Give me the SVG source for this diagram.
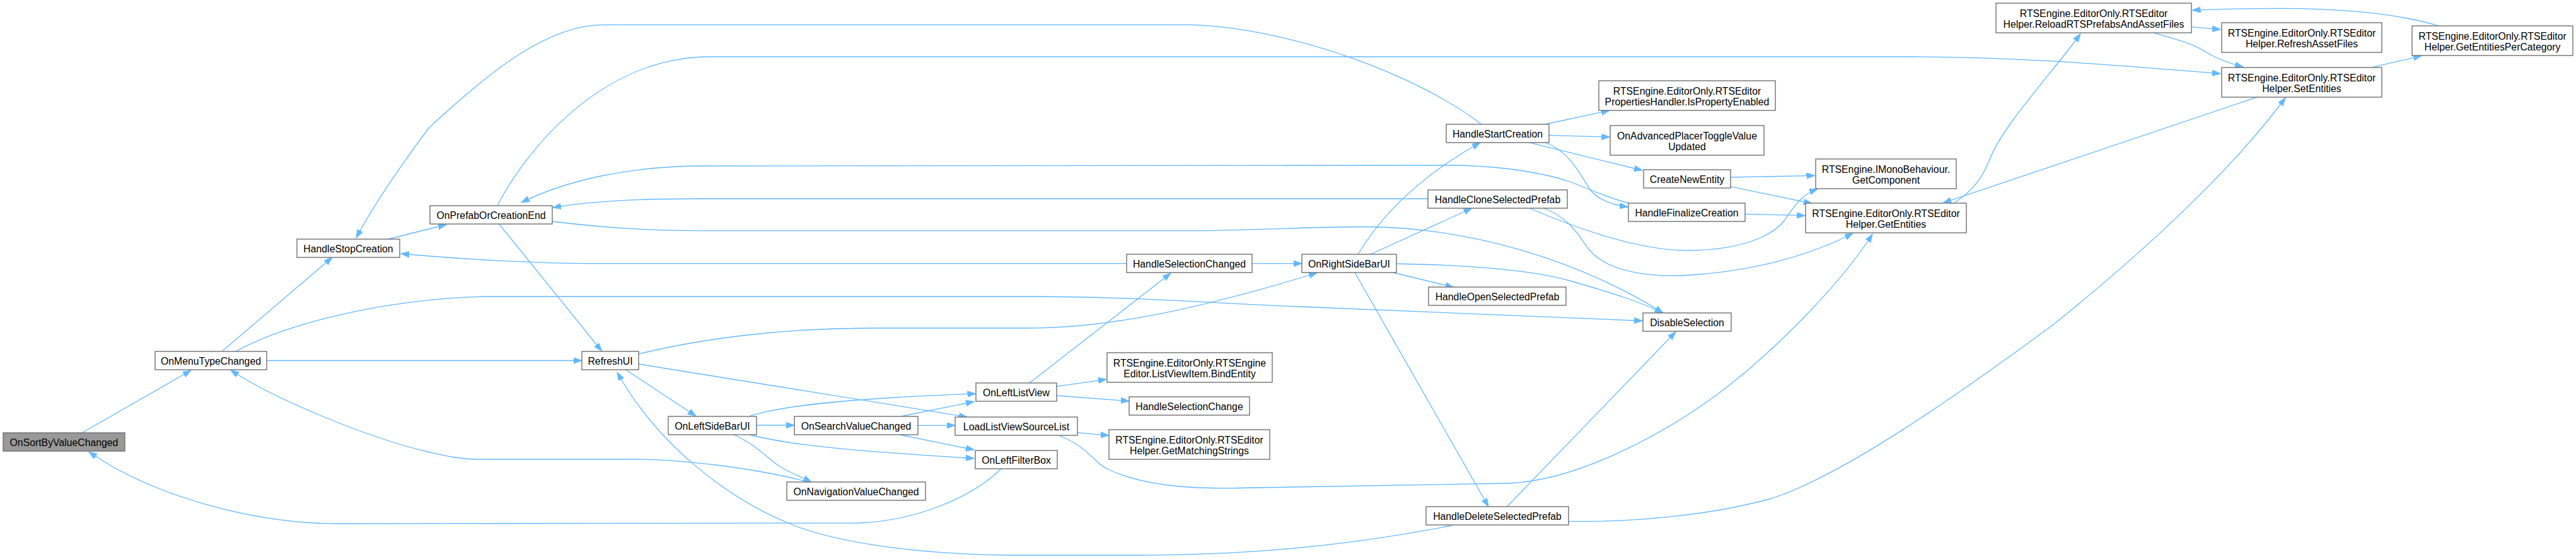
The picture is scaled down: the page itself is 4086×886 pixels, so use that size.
<svg xmlns="http://www.w3.org/2000/svg" width="4086" height="886" viewBox="0 0 4086 886">
<style>
.n rect{fill:#ffffff;stroke:#666666;stroke-width:1.3}
.n.focus rect{fill:#999999;stroke:#666666}
.n text{font-family:"Liberation Sans",Arial,sans-serif;font-size:15.8px;fill:#000000;text-anchor:middle}
.e path{fill:none;stroke:#63b8ff;stroke-width:1.3;marker-end:url(#ah)}
</style>
<defs>
<marker id="ah" markerUnits="userSpaceOnUse" markerWidth="14" markerHeight="10" refX="13" refY="4.7" orient="auto">
<path d="M0,0 L13,4.7 L0,9.4 z" fill="#63b8ff" stroke="#63b8ff" stroke-width="1"/>
</marker>
</defs>
<rect width="4086" height="886" fill="#ffffff"/>
<g id="edges" class="e">
<path d="M130,686 L303,587"/>
<path d="M1588,743 C1540,790 1450,826 1360,829 L536,830 C400,830 240,785 141,716"/>
<path d="M352,557 L527,408"/>
<path d="M423,571.5 L923,571.5"/>
<path d="M374,557 C450,515 600,475 769,470 L1628,470 C1800,470 1950,482 2060,486 L2605,508.5"/>
<path d="M1013,561 C1120,535 1250,520 1380,520 L1628,520 C1760,520 1900,490 2089,432.5"/>
<path d="M992.5,586 L1104,659.5"/>
<path d="M1013,577 L1534,661"/>
<path d="M1189,659.5 C1250,640 1380,630 1547.5,624"/>
<path d="M1200,674 L1260,674"/>
<path d="M1189,689 C1250,705 1350,715 1545,726.5"/>
<path d="M1164,689 C1200,705 1215,725 1238,740 C1255,750 1275,758 1287,764"/>
<path d="M1282,764 C1200,742 1080,728 1010,728 L760,728 C730,728 705,722 680,716.5 C580,693 430,630 366,586.5"/>
<path d="M1431,659.5 L1545,636.5"/>
<path d="M1456,674.3 L1515,674.3"/>
<path d="M1427,689 L1545,713"/>
<path d="M1676,612.3 L1755,601.3"/>
<path d="M1676,627 L1791,635.7"/>
<path d="M1633,607 L1857,433"/>
<path d="M1708,685.7 L1759,690.3"/>
<path d="M1679,690 C1730,710 1735,735 1760,745 C1820,772 1900,776 1990,773 L2393,766 C2500,762 2640,690 2740,613 C2820,550 2920,450 2970,371"/>
<path d="M1787,417.7 L948,417.7 C850,417.7 720,410 636,402"/>
<path d="M1986,417.7 L2065,417.7"/>
<path d="M876,351 C950,360 1030,365.7 1104,365.7 L1887,365.7 C1980,365.7 2080,359 2174,359.5 C2330,362 2500,410 2638,496"/>
<path d="M2214.5,418 C2330,420 2430,428 2490,445 C2560,465 2600,478 2638,496"/>
<path d="M2209.6,432 L2305.6,455.3"/>
<path d="M2149,432 L2361,803"/>
<path d="M2154,403 C2195,335 2260,275 2348,226"/>
<path d="M2174,403 L2334.6,330"/>
<path d="M2265,315 L1104,315 C1000,315 930,320 877,329"/>
<path d="M2583,322 C2540,310 2510,295 2490,288 C2430,268 2350,262 2300,262 L1117,263 C1000,263 900,285 827,321"/>
<path d="M2350,197 C2250,120 2050,45 1891,39.3 L957,39.3 C870,39.3 780,110 680,203 C630,270 590,330 565,377"/>
<path d="M789,326 C830,245 950,90 1126,90 L3032,90 C3200,90 3350,103 3522,116.7"/>
<path d="M791.6,355 L954.5,556.5"/>
<path d="M616,379 L708,356"/>
<path d="M2450.7,197 L2553,175"/>
<path d="M2457,214.3 L2553.4,217.3"/>
<path d="M2424,225.7 L2605,270"/>
<path d="M2451,226 C2490,240 2505,275 2522,300 C2535,318 2560,325 2582,328"/>
<path d="M2426,330 C2520,370 2610,398 2680,397 C2760,396 2810,375 2830,350 C2850,320 2860,308 2883,299.5"/>
<path d="M2448.5,330 C2490,345 2505,375 2520,395 C2550,432 2620,440 2680,436 C2780,430 2870,405 2939,370"/>
<path d="M2745,281 L2878.5,278.3"/>
<path d="M2745,295.7 L2874,322.5"/>
<path d="M2768,339.3 L2863,341.7"/>
<path d="M3099.5,322 C3130,302 3145,280 3155,255 C3175,200 3260,110 3300,53.5"/>
<path d="M3582,153.3 L3082,321.7"/>
<path d="M3476,42.7 L3522,46.7"/>
<path d="M3417,52.3 C3450,62 3475,68 3495,80 C3515,93 3535,100 3558,106"/>
<path d="M3763,106.7 L3841,88.3"/>
<path d="M3868,41 C3800,20 3700,13 3609,13.3 C3550,13.5 3510,15 3477.5,16"/>
<path d="M2303,833 C2150,862 2000,880 1800,880 L1600,880 C1450,878 1330,860 1260,833 C1150,790 1040,700 979,590"/>
<path d="M2488,826.3 C2600,828 2720,815 2810,790 C2920,755 3100,630 3255,516 C3400,400 3540,270 3625,155"/>
<path d="M2390.4,803 L2658,526"/>
</g>
<g id="n_sort" class="n focus"><rect x="5" y="686" width="193" height="29"/><text x="101.5" y="707">OnSortByValueChanged</text></g>
<g id="n_menu" class="n"><rect x="246" y="557" width="177" height="29"/><text x="334.5" y="578">OnMenuTypeChanged</text></g>
<g id="n_stop" class="n"><rect x="471" y="379" width="163" height="29"/><text x="552.5" y="400">HandleStopCreation</text></g>
<g id="n_pref" class="n"><rect x="682" y="326" width="194" height="29"/><text x="779" y="347">OnPrefabOrCreationEnd</text></g>
<g id="n_refresh" class="n"><rect x="923" y="557" width="90" height="29"/><text x="968" y="578">RefreshUI</text></g>
<g id="n_leftside" class="n"><rect x="1060" y="660" width="140" height="29"/><text x="1130" y="681">OnLeftSideBarUI</text></g>
<g id="n_search" class="n"><rect x="1260" y="660" width="196" height="29"/><text x="1358" y="681">OnSearchValueChanged</text></g>
<g id="n_nav" class="n"><rect x="1248" y="764" width="220" height="29"/><text x="1358" y="785">OnNavigationValueChanged</text></g>
<g id="n_leftlist" class="n"><rect x="1548" y="607" width="128" height="29"/><text x="1612" y="628">OnLeftListView</text></g>
<g id="n_load" class="n"><rect x="1515" y="661" width="194" height="29"/><text x="1612" y="682">LoadListViewSourceList</text></g>
<g id="n_filter" class="n"><rect x="1547" y="714" width="130" height="29"/><text x="1612" y="735">OnLeftFilterBox</text></g>
<g id="n_selchanged" class="n"><rect x="1787" y="403" width="199" height="29"/><text x="1886.5" y="424">HandleSelectionChanged</text></g>
<g id="n_bind" class="n"><rect x="1756" y="559" width="262" height="47"/><text x="1887" y="580.5">RTSEngine.EditorOnly.RTSEngine</text><text x="1887" y="598">Editor.ListViewItem.BindEntity</text></g>
<g id="n_selchange" class="n"><rect x="1791" y="629" width="191" height="29"/><text x="1886.5" y="650">HandleSelectionChange</text></g>
<g id="n_match" class="n"><rect x="1759" y="681" width="255" height="47"/><text x="1886.5" y="702.5">RTSEngine.EditorOnly.RTSEditor</text><text x="1886.5" y="720">Helper.GetMatchingStrings</text></g>
<g id="n_rightside" class="n"><rect x="2065" y="403" width="150" height="29"/><text x="2140" y="424">OnRightSideBarUI</text></g>
<g id="n_start" class="n"><rect x="2294" y="197" width="163" height="29"/><text x="2375.5" y="218">HandleStartCreation</text></g>
<g id="n_clone" class="n"><rect x="2265" y="301" width="221" height="29"/><text x="2375.5" y="322">HandleCloneSelectedPrefab</text></g>
<g id="n_open" class="n"><rect x="2266" y="455" width="218" height="29"/><text x="2375" y="476">HandleOpenSelectedPrefab</text></g>
<g id="n_delete" class="n"><rect x="2262" y="803" width="226" height="29"/><text x="2375" y="824">HandleDeleteSelectedPrefab</text></g>
<g id="n_isprop" class="n"><rect x="2536" y="128" width="280" height="47"/><text x="2676" y="149.5">RTSEngine.EditorOnly.RTSEditor</text><text x="2676" y="167">PropertiesHandler.IsPropertyEnabled</text></g>
<g id="n_adv" class="n"><rect x="2554" y="199" width="244" height="47"/><text x="2676" y="220.5">OnAdvancedPlacerToggleValue</text><text x="2676" y="238">Updated</text></g>
<g id="n_create" class="n"><rect x="2607" y="269" width="138" height="29"/><text x="2676" y="290">CreateNewEntity</text></g>
<g id="n_final" class="n"><rect x="2583" y="322" width="185" height="29"/><text x="2675.5" y="343">HandleFinalizeCreation</text></g>
<g id="n_disable" class="n"><rect x="2606" y="496" width="140" height="29"/><text x="2676" y="517">DisableSelection</text></g>
<g id="n_getcomp" class="n"><rect x="2880" y="252" width="223" height="47"/><text x="2991.5" y="273.5">RTSEngine.IMonoBehaviour.</text><text x="2991.5" y="291">GetComponent</text></g>
<g id="n_getent" class="n"><rect x="2864" y="322" width="255" height="47"/><text x="2991.5" y="343.5">RTSEngine.EditorOnly.RTSEditor</text><text x="2991.5" y="361">Helper.GetEntities</text></g>
<g id="n_reload" class="n"><rect x="3166" y="5" width="310" height="47"/><text x="3321" y="26.5">RTSEngine.EditorOnly.RTSEditor</text><text x="3321" y="44">Helper.ReloadRTSPrefabsAndAssetFiles</text></g>
<g id="n_refreshasset" class="n"><rect x="3524" y="36" width="254" height="47"/><text x="3651" y="57.5">RTSEngine.EditorOnly.RTSEditor</text><text x="3651" y="75">Helper.RefreshAssetFiles</text></g>
<g id="n_setent" class="n"><rect x="3524" y="107" width="254" height="47"/><text x="3651" y="128.5">RTSEngine.EditorOnly.RTSEditor</text><text x="3651" y="146">Helper.SetEntities</text></g>
<g id="n_percat" class="n"><rect x="3826" y="41" width="255" height="47"/><text x="3953.5" y="62.5">RTSEngine.EditorOnly.RTSEditor</text><text x="3953.5" y="80">Helper.GetEntitiesPerCategory</text></g>
</svg>
